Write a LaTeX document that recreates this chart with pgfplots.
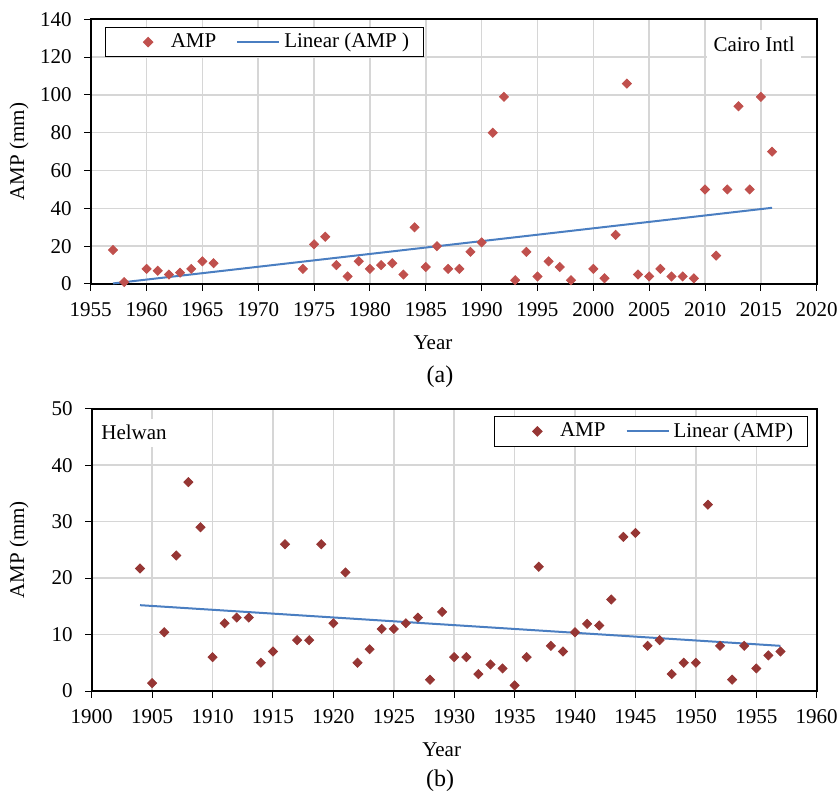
\documentclass[border=0pt]{standalone}
\usepackage{fontspec}
\setmainfont{Liberation Serif}
\usepackage{pgfplots}
\pgfplotsset{compat=1.18}

\definecolor{ampA}{RGB}{192,80,77}
\definecolor{ampB}{RGB}{150,54,52}
\definecolor{trend}{RGB}{74,126,193}
\definecolor{gridc}{RGB}{214,214,214}

\pgfplotsset{
  amp/.style={
    scale only axis,
    tick align=outside,
    xtick pos=left, ytick pos=left,
    major tick length=3.3pt,
    tick style={black, line width=0.5pt},
    axis line style={black, line width=0.85pt},
    grid=major,
    major grid style={gridc, line width=0.75pt},
    /pgf/number format/assume math mode=true,
    /pgf/number format/1000 sep={},
    xticklabel style={yshift=-2.65pt},
    yticklabel style={xshift=-2.7pt},
    clip=false,
    legend cell align=left,
    legend columns=2,
    legend style={draw=black, line width=0.6pt, inner xsep=5pt, inner ysep=1pt,
      /tikz/every even column/.append style={column sep=8pt}},
  },
  markleg/.style={legend image code/.code={\path (0pt,0pt) (25pt,0pt); \draw[##1] plot coordinates {(16pt,0pt)};}},
  lineleg/.style={legend image code/.code={\draw[##1, line width=1pt] (0pt,0pt) -- (21pt,0pt);}},
}

\begin{document}
\begin{tikzpicture}[font=\fontsize{10.5}{12.6}\selectfont]
\useasboundingbox (0,0) rectangle (419pt,396pt);

% (a) Cairo Intl
\begin{axis}[amp, at={(45.35pt,254pt)}, anchor=south west,
  width=363pt, height=132.35pt,
  xmin=1955, xmax=2020, ymin=0, ymax=140,
  xtick={1955,1960,...,2020}, ytick={0,20,...,140},
  legend style={at={(0,1)}, anchor=north west, xshift=7.15pt, yshift=-3.7pt}]
\addplot[only marks, mark=square*, mark size=1.6pt, color=ampA,
  mark options={rotate=45, fill=ampA, draw=ampA}, markleg] table {
1957 18
1958 1
1960 8
1961 7
1962 5
1963 6
1964 8
1965 12
1966 11
1974 8
1975 21
1976 25
1977 10
1978 4
1979 12
1980 8
1981 10
1982 11
1983 5
1984 30
1985 9
1986 20
1987 8
1988 8
1989 17
1990 22
1991 80
1992 99
1993 2
1994 17
1995 4
1996 12
1997 9
1998 2
2000 8
2001 3
2002 26
2003 106
2004 5
2005 4
2006 8
2007 4
2008 4
2009 3
2010 50
2011 15
2012 50
2013 94
2014 50
2015 99
2016 70
};
\addlegendentry{AMP}
\addplot[trend, line width=1pt, lineleg] coordinates {(1957,0.3) (2016,40.3)};
\addlegendentry{Linear (AMP )}
\node[fill=white, anchor=east, inner xsep=3.3pt, inner ysep=3.6pt,
  xshift=-7.55pt, yshift=-12.65pt] at (rel axis cs:1,1) {Cairo Intl};
\end{axis}

% (b) Helwan
\begin{axis}[amp, at={(45.85pt,50.5pt)}, anchor=south west,
  width=362.5pt, height=141.15pt,
  xmin=1900, xmax=1960, ymin=0, ymax=50,
  xtick={1900,1905,...,1960}, ytick={0,10,...,50},
  legend style={at={(1,1)}, anchor=north east, xshift=-4.5pt, yshift=-3.65pt}]
\addplot[only marks, mark=square*, mark size=1.6pt, color=ampB,
  mark options={rotate=45, fill=ampB, draw=ampB}, markleg] table {
1904 21.7
1905 1.4
1906 10.4
1907 24
1908 37
1909 29
1910 6
1911 12
1912 13
1913 13
1914 5
1915 7
1916 26
1917 9
1918 9
1919 26
1920 12
1921 21
1922 5
1923 7.4
1924 11
1925 11
1926 12
1927 13
1928 2
1929 14
1930 6
1931 6
1932 3
1933 4.7
1934 4
1935 1
1936 6
1937 22
1938 8
1939 7
1940 10.4
1941 11.9
1942 11.6
1943 16.2
1944 27.3
1945 28
1946 8
1947 9
1948 3
1949 5
1950 5
1951 33
1952 8
1953 2
1954 8
1955 4
1956 6.3
1957 7
};
\addlegendentry{AMP}
\addplot[trend, line width=1pt, lineleg] coordinates {(1904,15.2) (1957,8.0)};
\addlegendentry{Linear (AMP)}
\node[fill=white, anchor=west, inner sep=3.4pt,
  xshift=1.25pt, yshift=-12pt] at (rel axis cs:0,1) {Helwan};
\end{axis}

% labels
\node[rotate=90, inner sep=0pt] at (9.5pt,320.25pt) {AMP (mm)};
\node[inner sep=0pt] at (216.5pt,224.5pt) {Year};
\node[inner sep=0pt, font=\fontsize{12}{14}\selectfont] at (220pt,207.65pt) {(a)};
\node[rotate=90, inner sep=0pt] at (9.5pt,121pt) {AMP (mm)};
\node[inner sep=0pt] at (220.85pt,21.35pt) {Year};
\node[inner sep=0pt, font=\fontsize{12}{14}\selectfont] at (220pt,5.6pt) {(b)};
\end{tikzpicture}
\end{document}
